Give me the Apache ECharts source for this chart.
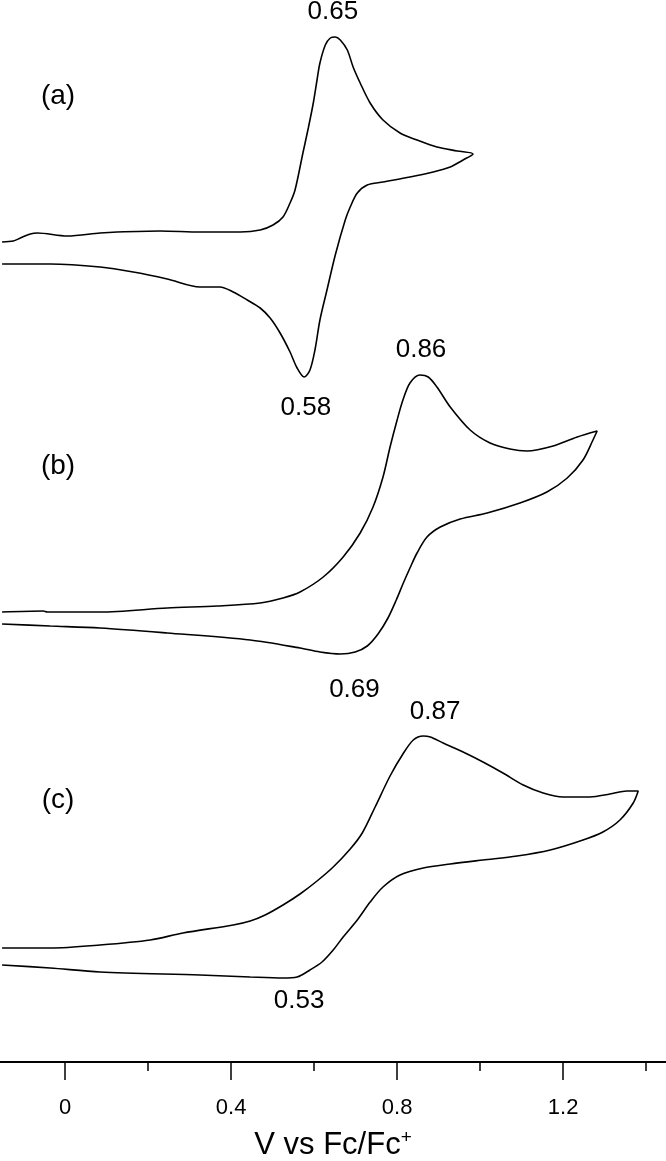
<!DOCTYPE html>
<html>
<head>
<meta charset="utf-8">
<title>CV</title>
<script src="https://cdn.jsdelivr.net/npm/echarts@6.0.0/dist/echarts.min.js"></script>
<style>
	html, body { margin: 0; padding: 0; background: #fff; }
	#chart { width: 666px; height: 1161px; }
</style>
</head>
<body>
<div id="chart"></div>
<script>
// potentials (V vs Fc/Fc+) and currents (a.u.), forward scan then reverse scan
const potentialA = [-0.152, -0.125, -0.108, -0.084, -0.067, 0.005, 0.084, 0.125, 0.229, 0.325, 0.422, 0.470, 0.501, 0.525, 0.542, 0.554, 0.573, 0.586, 0.598, 0.607, 0.614, 0.627, 0.639, 0.651, 0.663, 0.680, 0.694, 0.711, 0.735, 0.766, 0.807, 0.848, 0.896, 0.945, 0.983,
	0.959, 0.928, 0.887, 0.831, 0.766, 0.728, 0.704, 0.687, 0.675, 0.651, 0.631, 0.614, 0.602, 0.590, 0.576, 0.559, 0.542, 0.518, 0.494, 0.470, 0.439, 0.405, 0.373, 0.325, 0.246, 0.164, 0.084, -0.036, -0.152];
const currentA = [1.0, 1.1, 1.4, 1.8, 1.9, 1.6, 1.9, 2.0, 2.1, 2.0, 2.0, 2.2, 2.7, 3.5, 4.9, 6.2, 9.9, 12.4, 14.9, 17.2, 18.9, 20.7, 21.4, 21.5, 21.2, 20.2, 18.5, 16.9, 14.9, 13.2, 11.9, 11.2, 10.5, 10.1, 9.8,
	9.2, 8.5, 8.0, 7.5, 7.0, 6.7, 5.9, 4.5, 3.2, -0.3, -3.8, -6.8, -9.8, -11.8, -12.5, -11.6, -10.0, -8.1, -6.6, -5.6, -4.8, -4.0, -3.5, -3.5, -2.7, -2.0, -1.5, -1.2, -1.2];

const potentialB = [-0.152, -0.053, -0.043, 0.084, 0.246, 0.366, 0.470, 0.525, 0.566, 0.622, 0.670, 0.711, 0.742, 0.766, 0.783, 0.800, 0.814, 0.831, 0.855, 0.875, 0.896, 0.928, 0.976, 1.024, 1.072, 1.113, 1.176, 1.234, 1.282,
	1.272, 1.248, 1.210, 1.161, 1.096, 1.017, 0.952, 0.904, 0.872, 0.848, 0.831, 0.814, 0.798, 0.778, 0.754, 0.728, 0.699, 0.663, 0.614, 0.566, 0.446, 0.246, 0.084, -0.036, -0.152];
const currentB = [1.0, 1.1, 1.0, 1.0, 1.4, 1.6, 1.9, 2.4, 3.0, 4.5, 6.5, 8.9, 11.5, 14.5, 17.5, 20.2, 22.2, 23.9, 24.7, 24.5, 23.5, 21.5, 19.2, 17.9, 17.3, 17.1, 17.6, 18.5, 19.1,
	18.2, 16.2, 14.4, 13.0, 11.9, 10.9, 10.3, 9.5, 8.5, 6.9, 5.4, 3.8, 2.2, 0.4, -1.2, -2.4, -3.0, -3.2, -3.0, -2.6, -1.8, -1.1, -0.6, -0.4, -0.2];

const potentialC = [-0.152, -0.036, 0.084, 0.205, 0.284, 0.405, 0.446, 0.482, 0.525, 0.566, 0.607, 0.646, 0.687, 0.716, 0.747, 0.783, 0.814, 0.839, 0.863, 0.880, 0.911, 0.959, 1.007, 1.055, 1.104, 1.152, 1.200, 1.265, 1.313, 1.354, 1.381,
	1.369, 1.337, 1.296, 1.248, 1.169, 1.089, 1.007, 0.928, 0.863, 0.807, 0.766, 0.735, 0.704, 0.670, 0.646, 0.619, 0.590, 0.559, 0.525, 0.446, 0.325, 0.084, -0.036, -0.152];
const currentC = [0.4, 0.4, 0.7, 1.2, 1.9, 2.7, 3.1, 3.7, 4.7, 5.8, 7.1, 8.5, 10.3, 11.9, 14.5, 17.6, 19.8, 21.2, 21.6, 21.5, 20.9, 20.0, 19.0, 17.9, 16.7, 15.9, 15.5, 15.5, 15.8, 16.1, 16.1,
	14.9, 13.2, 12.0, 11.2, 10.2, 9.6, 9.2, 8.8, 8.4, 7.7, 6.5, 5.0, 3.2, 1.5, 0.2, -1.0, -1.8, -2.5, -2.6, -2.5, -2.3, -2.0, -1.6, -1.3];

// vertical offset of each trace (a.u.)
const offsets = [81, 44, 11];
const panelNames = ['(a)', '(b)', '(c)'];
const anodicPeaks = [0.65, 0.86, 0.87];
const cathodicPeaks = [0.58, 0.69, 0.53];

const majorTicks = [0, 0.4, 0.8, 1.2];
const minorTicks = [0.2, 0.6, 1.0, 1.4];

const potentials = [potentialA, potentialB, potentialC];
const currents = [currentA, currentB, currentC];

const font = 'Liberation Sans, Arial, sans-serif';

// label placement relative to peaks (px)
const anodicLabelOffset = [[-2, -25], [-1, -25], [9, -24]];
const cathodicLabelOffset = [[0, 31], [3, 36], [14, 23]];
const panelLabelY = [96, 466, 800];

const chartDom = document.getElementById('chart');
const myChart = echarts.init(chartDom);

const series = potentials.map((E, k) => {
	const I = currents[k];
	const data = E.map((e, i) => [e, I[i] + offsets[k]]);
	const iMax = Math.max(...I) + offsets[k];
	const iMin = Math.min(...I) + offsets[k];
	return {
		type: 'line',
		data: data,
		showSymbol: false,
		smooth: 0.3,
		xAxisIndex: 0,
		lineStyle: { color: '#000', width: 1.6 },
		markPoint: {
			symbol: 'circle',
			symbolSize: 1,
			itemStyle: { color: 'rgba(0,0,0,0)' },
			label: { show: true, color: '#000', fontSize: 26, fontFamily: font, formatter: '{b}' },
			data: [
				{ name: anodicPeaks[k].toFixed(2), coord: [anodicPeaks[k], iMax], label: { offset: anodicLabelOffset[k] } },
				{ name: cathodicPeaks[k].toFixed(2), coord: [cathodicPeaks[k], iMin], label: { offset: cathodicLabelOffset[k] } }
			]
		}
	};
});

const option = {
	animation: false,
	backgroundColor: '#fff',
	grid: { left: 0, right: 0, top: 0, bottom: 99, containLabel: false, outerBoundsMode: 'none' },
	xAxis: [
		{
			type: 'value',
			min: -0.157,
			max: 1.448,
			position: 'bottom',
			name: '{n|V vs Fc/Fc}{s|+}',
			nameLocation: 'middle',
			nameGap: 66,
			nameTextStyle: {
				color: '#000',
				fontFamily: font,
				rich: {
					n: { fontSize: 31, fontFamily: font, color: '#000' },
					s: { fontSize: 19, fontFamily: font, color: '#000', padding: [0, 0, 15, 0] }
				}
			},
			axisLine: { show: true, lineStyle: { color: '#000', width: 2 } },
			axisTick: { show: true, customValues: majorTicks, length: 18, lineStyle: { color: '#000', width: 1.5 } },
			axisLabel: { show: true, customValues: majorTicks, margin: 35, color: '#000', fontSize: 22, fontFamily: font, formatter: v => String(v) },
			splitLine: { show: false }
		},
		{
			type: 'value',
			min: -0.157,
			max: 1.448,
			position: 'bottom',
			axisLine: { show: false },
			axisTick: { show: true, customValues: minorTicks, length: 9, lineStyle: { color: '#000', width: 1.5 } },
			axisLabel: { show: false },
			splitLine: { show: false }
		}
	],
	yAxis: { type: 'value', min: 0, max: 106.2, show: false },
	graphic: panelNames.map((t, k) => ({
		type: 'text',
		x: 58,
		y: panelLabelY[k],
		style: { text: t, fill: '#000', font: '28px ' + font, textAlign: 'center', textVerticalAlign: 'middle' }
	})),
	series: series
};

myChart.setOption(option);
</script>
</body>
</html>
